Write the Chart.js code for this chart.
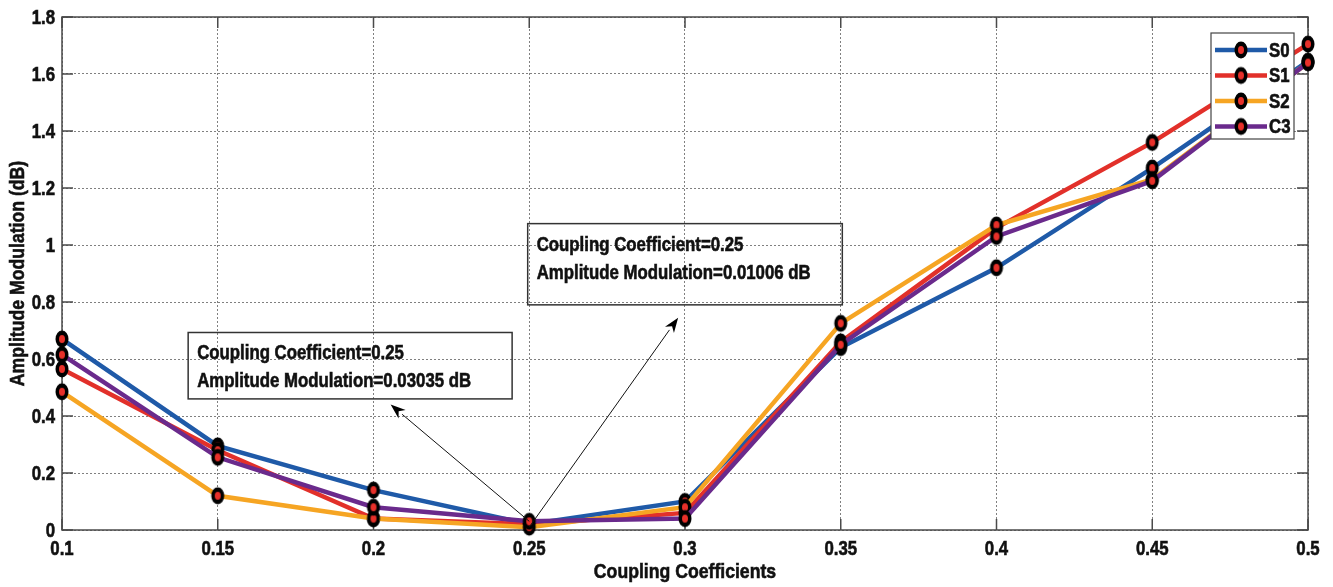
<!DOCTYPE html>
<html>
<head>
<meta charset="utf-8">
<script src="https://cdn.jsdelivr.net/npm/chart.js@4.4.1/dist/chart.umd.min.js"></script>
<style>
  html, body { margin: 0; padding: 0; background: #fff; }
  #wrap { position: relative; width: 1333px; height: 587px; }
</style>
</head>
<body>
<div id="wrap"><canvas id="ampChart" width="1333" height="587"></canvas></div>
<script>
// coupling coefficients on the x axis
const coupling = [0.1, 0.15, 0.2, 0.25, 0.3, 0.35, 0.4, 0.45, 0.5];

// amplitude modulation (dB) per series
const s0 = [0.67, 0.295, 0.14, 0.02, 0.10, 0.64, 0.92, 1.27, 1.645];
const s1 = [0.565, 0.28, 0.04, 0.02, 0.06, 0.66, 1.06, 1.36, 1.705];
const s2 = [0.485, 0.12, 0.04, 0.01006, 0.08, 0.725, 1.07, 1.23, 1.64];
const c3 = [0.615, 0.255, 0.08, 0.03035, 0.04, 0.65, 1.03, 1.225, 1.64];

const seriesNames = ['S0', 'S1', 'S2', 'C3'];
const seriesColors = ['#1f5aa8', '#e2302a', '#f6a523', '#6a2a8c'];

const xTitle = 'Coupling Coefficients';
const yTitle = 'Amplitude Modulation (dB)';

// data tips: marked point, label box corners (data units), arrow head (data units)
const tipA = { x: 0.25, y: c3[3], box: [0.1405, 0.693, 0.2445, 0.46], head: [0.2055, 0.44] };
const tipB = { x: 0.25, y: s2[3], box: [0.2495, 1.075, 0.3505, 0.79], head: [0.2978, 0.745] };

const FONT = "'Liberation Sans', Arial, sans-serif";
const NARROW = 0.84;   // horizontal squeeze for a narrow bold face

// black ring marker with a red centre, slightly taller than wide
function makeMarker() {
  const c = document.createElement('canvas');
  c.width = 16; c.height = 20;
  const g = c.getContext('2d');
  g.fillStyle = '#000';
  g.beginPath(); g.ellipse(8, 10, 6.5, 8.5, 0, 0, Math.PI * 2); g.fill();
  g.fillStyle = '#e8302a';
  g.beginPath(); g.ellipse(8, 10, 3, 4, 0, 0, Math.PI * 2); g.fill();
  return c;
}
const marker = makeMarker();

const seriesData = [s0, s1, s2, c3];
const datasets = seriesData.map((vals, i) => ({
  label: seriesNames[i],
  data: vals.map((v, k) => ({ x: coupling[k], y: v })),
  borderColor: seriesColors[i],
  backgroundColor: seriesColors[i],
  borderWidth: 4.5,
  pointStyle: marker,
  pointRadius: 8,
  pointHoverRadius: 8,
  tension: 0,
  clip: false,
  order: 4 - i
}));

// heavy bold text squeezed horizontally, optionally rotated
function narrowText(ctx, text, x, y, size, align, baseline, rot) {
  ctx.save();
  ctx.translate(x, y);
  if (rot) ctx.rotate(rot);
  ctx.scale(NARROW, 1);
  ctx.font = 'bold ' + size + 'px ' + FONT;
  ctx.fillStyle = '#111';
  ctx.strokeStyle = '#111';
  ctx.lineWidth = 0.6;
  ctx.textAlign = align;
  ctx.textBaseline = baseline;
  ctx.fillText(text, 0, 0);
  ctx.strokeText(text, 0, 0);
  ctx.restore();
}

function drawArrow(ctx, x0, y0, x1, y1) {
  const ang = Math.atan2(y1 - y0, x1 - x0);
  const len = 15, half = 5.5;
  const bx = x1 - len * Math.cos(ang), by = y1 - len * Math.sin(ang);
  ctx.strokeStyle = '#111';
  ctx.lineWidth = 1;
  ctx.beginPath(); ctx.moveTo(x0, y0); ctx.lineTo(bx, by); ctx.stroke();
  ctx.fillStyle = '#000';
  ctx.beginPath();
  ctx.moveTo(x1, y1);
  ctx.lineTo(bx + half * Math.sin(ang), by - half * Math.cos(ang));
  ctx.lineTo(x1 - len * 0.7 * Math.cos(ang), y1 - len * 0.7 * Math.sin(ang));
  ctx.lineTo(bx - half * Math.sin(ang), by + half * Math.cos(ang));
  ctx.closePath(); ctx.fill();
}

const framePlugin = {
  id: 'frame',
  beforeDatasetsDraw(chart) {
    const { ctx, chartArea: a, scales } = chart;
    ctx.save();
    ctx.strokeStyle = '#4a4a4a';
    ctx.lineWidth = 1.5;
    ctx.strokeRect(a.left, a.top, a.right - a.left, a.bottom - a.top);
    const t = 11;
    ctx.beginPath();
    scales.x.ticks.forEach(tk => {
      const px = scales.x.getPixelForValue(tk.value);
      ctx.moveTo(px, a.bottom); ctx.lineTo(px, a.bottom - t);
      ctx.moveTo(px, a.top); ctx.lineTo(px, a.top + t);
    });
    scales.y.ticks.forEach(tk => {
      const py = scales.y.getPixelForValue(tk.value);
      ctx.moveTo(a.left, py); ctx.lineTo(a.left + t, py);
      ctx.moveTo(a.right, py); ctx.lineTo(a.right - t, py);
    });
    ctx.stroke();
    ctx.restore();

    // tick labels and axis titles
    scales.x.ticks.forEach(tk => {
      narrowText(ctx, String(+tk.value.toFixed(2)), scales.x.getPixelForValue(tk.value), a.bottom + 19, 20, 'center', 'middle');
    });
    scales.y.ticks.forEach(tk => {
      narrowText(ctx, String(+tk.value.toFixed(1)), a.left - 7, scales.y.getPixelForValue(tk.value) + 1, 20, 'right', 'middle');
    });
    narrowText(ctx, xTitle, (a.left + a.right) / 2, a.bottom + 42, 21, 'center', 'middle');
    narrowText(ctx, yTitle, 18, (a.top + a.bottom) / 2, 21, 'center', 'middle', -Math.PI / 2);
  },
  afterDraw(chart) {
    const { ctx, scales } = chart;
    const X = v => scales.x.getPixelForValue(v);
    const Y = v => scales.y.getPixelForValue(v);
    ctx.save();

    // data tip boxes with arrows back to the point
    [tipA, tipB].forEach(tp => {
      const [x0, y0, x1, y1] = tp.box;
      const l = X(x0), tp0 = Y(y0), r = X(x1), b = Y(y1);
      ctx.strokeStyle = '#333';
      ctx.lineWidth = 1.5;
      ctx.strokeRect(l, tp0, r - l, b - tp0);
      narrowText(ctx, 'Coupling Coefficient=' + tp.x, l + 9, tp0 + 27, 20, 'left', 'alphabetic');
      narrowText(ctx, 'Amplitude Modulation=' + tp.y + ' dB', l + 9, tp0 + 55, 20, 'left', 'alphabetic');
      drawArrow(ctx, X(tp.x), Y(tp.y), X(tp.head[0]), Y(tp.head[1]));
    });

    // legend box, top right
    const lx = 1211, ly = 33, lw = 83, lh = 106;
    ctx.fillStyle = '#fff';
    ctx.fillRect(lx, ly, lw, lh);
    ctx.strokeStyle = '#444';
    ctx.lineWidth = 1.2;
    ctx.strokeRect(lx, ly, lw, lh);
    chart.data.datasets.forEach((ds, i) => {
      const cy = ly + 17 + i * 25.5;
      ctx.strokeStyle = ds.borderColor;
      ctx.lineWidth = 4.5;
      ctx.beginPath(); ctx.moveTo(lx + 4, cy); ctx.lineTo(lx + 56, cy); ctx.stroke();
      ctx.drawImage(marker, lx + 30 - 8, cy - 10);
      narrowText(ctx, ds.label, lx + 58, cy + 1, 20, 'left', 'middle');
    });
    ctx.restore();
  }
};

new Chart(document.getElementById('ampChart'), {
  type: 'line',
  data: { datasets },
  options: {
    responsive: false,
    animation: false,
    devicePixelRatio: 1,
    layout: { padding: { top: 17, right: 25, left: 0, bottom: 0 } },
    plugins: { legend: { display: false }, tooltip: { enabled: false } },
    scales: {
      x: {
        type: 'linear',
        min: 0.1, max: 0.5,
        afterBuildTicks: s => { s.ticks = coupling.map(v => ({ value: v })); },
        afterFit: s => { s.height = 57; },
        ticks: { display: false },
        grid: { color: '#808080', lineWidth: 1, drawTicks: false },
        border: { display: false, dash: [2, 2] }
      },
      y: {
        min: 0, max: 1.8,
        ticks: { stepSize: 0.2, display: false },
        afterFit: s => { s.width = 62; },
        grid: { color: '#808080', lineWidth: 1, drawTicks: false },
        border: { display: false, dash: [2, 2] }
      }
    }
  },
  plugins: [framePlugin]
});
</script>
</body>
</html>
